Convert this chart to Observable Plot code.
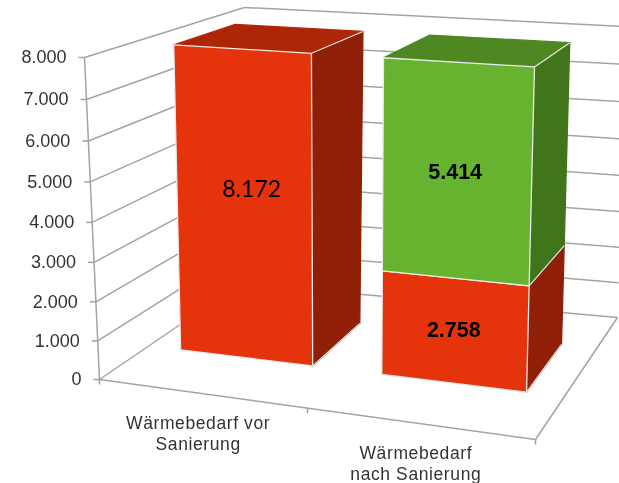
<!DOCTYPE html>
<html>
<head>
<meta charset="utf-8">
<script src="https://cdn.jsdelivr.net/npm/d3@7"></script>
<script src="https://cdn.jsdelivr.net/npm/@observablehq/plot@0.6"></script>
<style>html,body{margin:0;padding:0;background:#fff}svg{display:block;filter:blur(0.35px)}.cat text{letter-spacing:.6px}</style>
</head>
<body>
<div id="chart"></div>
<script>
const categories = ["Wärmebedarf vor\nSanierung", "Wärmebedarf\nnach Sanierung"];
const tickValues = [0, 1000, 2000, 3000, 4000, 5000, 6000, 7000, 8000];
const tickLabels = ["0", "1.000", "2.000", "3.000", "4.000", "5.000", "6.000", "7.000", "8.000"];
const redValues = [8172, 2758];
const greenValues = [0, 5414];
const valueLabels = ["8.172", "2.758", "5.414"];
const axisMax = 8000;

const colors = {
  red: {front: "#e5330c", side: "#8f2007", top: "#ad2706"},
  green: {front: "#65b32e", side: "#41751b", top: "#4f8823"}
};
const gridColor = "#a3a3a3", edgeColor = "#e9e9e9", textColor = "#333333";

// perspective frame of the 3D chart box
const frame = {
  fb0: [99, 379], fb1: [535, 439], bb0: [240, 283], bb1: [617, 317],
  ft0: [84, 57], ft1: [545, 87], bt0: [244, 7], bt1: [626, 26]
};
const warp = (t, r) => t * r / (1 + t * (r - 1));
const lerp = (a, b, t) => a + (b - a) * t;
function project(u, t, w) {
  const us = warp(u, 0.912), ts = warp(t, 0.953);
  return [0, 1].map(k => {
    const bottom = lerp(lerp(frame.fb0[k], frame.fb1[k], us), lerp(frame.bb0[k], frame.bb1[k], us), w);
    const top = lerp(lerp(frame.ft0[k], frame.ft1[k], us), lerp(frame.bt0[k], frame.bt1[k], us), w);
    return lerp(bottom, top, ts);
  });
}
const P = (u, v, w) => project(u, v / axisMax, w);
const barScale = 0.97;              // bars sit slightly below the wall gridlines in the reference
const wFront = 0.35, wBack = 0.75;
const barHalf = 1 / 6;

const poly = (points, fill, stroke) => Plot.line([...points, points[0]], {
  x: d => d[0], y: d => d[1], fill, stroke: stroke || "none", strokeWidth: 1.3, curve: "linear"
});
const seg = (list, stroke, strokeWidth) => Plot.link(list, {
  x1: d => d[0][0], y1: d => d[0][1], x2: d => d[1][0], y2: d => d[1][1], stroke, strokeWidth
});

function barMarks(i, v0, v1, palette, withTop) {
  const a = (i + 0.5) / categories.length - barHalf, b = (i + 0.5) / categories.length + barHalf;
  const y0 = v0 * barScale, y1 = v1 * barScale;
  const fl0 = P(a, y0, wFront), fr0 = P(b, y0, wFront), fl1 = P(a, y1, wFront), fr1 = P(b, y1, wFront);
  const br0 = P(b, y0, wBack), br1 = P(b, y1, wBack), bl1 = P(a, y1, wBack);
  const marks = [poly([fr0, br0, br1, fr1], palette.side, palette.side)];
  if (withTop) marks.push(poly([fl1, fr1, br1, bl1], palette.top, palette.top));
  marks.push(poly([fl0, fr0, fr1, fl1], palette.front, edgeColor));
  const edges = [[fr0, br0]];
  if (withTop) edges.push([fr1, br1]);
  marks.push(seg(edges, edgeColor, 1.1));
  return marks;
}

const leftWall = tickValues.map(v => [P(0, v, 0), P(0, v, 1)]);
const backWall = tickValues.map(v => [P(0, v, 1), P(1, v, 1)]);
const valueTicks = tickValues.map(v => { const p = P(0, v, 0); return [p, [p[0] - 6, p[1]]]; });
const catTicks = [0, 0.5, 1].map(u => { const p = P(u, 0, 0); return [p, [p[0], p[1] + 5]]; });

const axisLabels = tickValues.map((v, i) => ({p: P(0, v, 0), label: tickLabels[i]}));
const catLabels = categories.map((c, i) => ({p: P((i + 0.5) / categories.length, 0, 0), label: c}));

const label = (i, v, text, dx, dy, opts) => Plot.text([P((i + 0.5) / categories.length, v * barScale, wFront)], {
  x: d => d[0], y: d => d[1], text: () => text, dx, dy, fill: "#000", ...opts
});

const plot = Plot.plot({
  width: 619, height: 483,
  margin: 0,
  x: {domain: [0, 619], range: [0, 619], axis: null},
  y: {domain: [0, 483], range: [0, 483], axis: null},
  marks: [
    seg(leftWall, gridColor, 1.5),
    seg(backWall, gridColor, 1.5),
    seg([[P(0, 0, 0), P(0, axisMax, 0)]], gridColor, 1.5),
    seg([[P(0, 0, 0), P(1, 0, 0)], [P(1, 0, 0), P(1, 0, 1)]], gridColor, 1.5),
    seg(valueTicks, gridColor, 1.5),
    seg(catTicks, gridColor, 1.5),
    Plot.text(axisLabels, {
      x: d => d.p[0], y: d => d.p[1], text: "label", dx: -18, textAnchor: "end",
      fill: textColor, fontSize: 18, fontFamily: "Liberation Sans"
    }),
    Plot.text(catLabels, {
      x: d => d.p[0], y: d => d.p[1], text: "label", dx: -3, dy: 39, lineHeight: 1.2,
      fill: textColor, fontSize: 17.5, fontFamily: "Liberation Sans", className: "cat"
    }),
    ...barMarks(0, 0, redValues[0], colors.red, true),
    ...barMarks(1, 0, redValues[1], colors.red, false),
    ...barMarks(1, redValues[1], redValues[1] + greenValues[1], colors.green, true),
    label(0, redValues[0] / 2, valueLabels[0], 8, -17, {fontSize: 23, fontFamily: "Lato"}),
    label(1, redValues[1] / 2, valueLabels[1], 0, -1, {fontSize: 21.5, fontWeight: "bold", fontFamily: "Liberation Sans"}),
    label(1, redValues[1] + greenValues[1] / 2, valueLabels[2], -1, 0, {fontSize: 21.5, fontWeight: "bold", fontFamily: "Liberation Sans"})
  ]
});
document.getElementById("chart").append(plot);
</script>
</body>
</html>
